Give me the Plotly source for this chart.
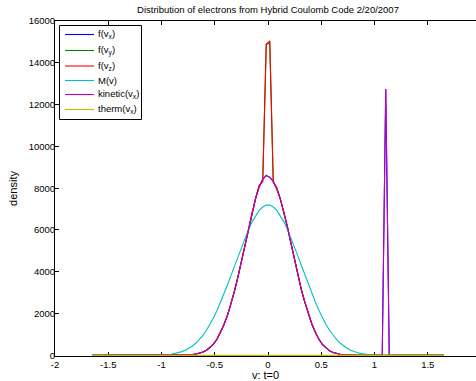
import plotly.graph_objects as go

# velocity grid (bin centres), with the ends of the sampled range
v = [-1.65,
     -1.0395, -1.0065, -0.9735, -0.9405, -0.9075, -0.8745, -0.8415, -0.8085, -0.7755, -0.7425,
     -0.7095, -0.6765, -0.6435, -0.6105, -0.5775, -0.5445, -0.5115, -0.4785, -0.4455, -0.4125,
     -0.3795, -0.3465, -0.3135, -0.2805, -0.2475, -0.2145, -0.1815, -0.1485, -0.1155, -0.0825,
     -0.0495, -0.0165, 0.0165, 0.0495, 0.0825, 0.1155, 0.1485, 0.1815, 0.2145, 0.2475,
     0.2805, 0.3135, 0.3465, 0.3795, 0.4125, 0.4455, 0.4785, 0.5115, 0.5445, 0.5775,
     0.6105, 0.6435, 0.6765, 0.7095, 0.7425, 0.7755, 0.8085, 0.8415, 0.8745, 0.9075,
     0.9405, 0.9735, 1.0065, 1.0395, 1.0725, 1.1055, 1.1385,
     1.65]

f_vx = [0,
        0, 0, 0, 0, 0, 0, 0, 0, 7, 18,
        35, 60, 100, 160, 245, 370, 540, 780, 1090, 1470,
        1930, 2470, 3090, 3790, 4540, 5330, 6120, 6860, 7520, 8060,
        8420, 8610, 8520, 8330, 7980, 7500, 6850, 6150, 5380, 4580,
        3820, 3120, 2520, 1960, 1480, 1090, 760, 510, 340, 215,
        140, 90, 55, 30, 15, 5, 0, 0, 0, 0,
        0, 0, 0, 0, 0, 12750, 0,
        0]

f_vy = [0,
        0, 0, 0, 0, 0, 0, 0, 0, 8, 20,
        38, 62, 105, 165, 250, 375, 550, 790, 1100, 1480,
        1950, 2480, 3100, 3800, 4550, 5350, 6130, 6880, 7540, 8100,
        8350, 14870, 14950, 8300, 7950, 7480, 6870, 6170, 5400, 4600,
        3840, 3140, 2540, 1970, 1490, 1100, 770, 520, 345, 220,
        145, 92, 56, 31, 16, 6, 0, 0, 0, 0,
        0, 0, 0, 0, 0, 0, 0,
        0]

f_vz = [0,
        0, 0, 0, 0, 0, 0, 0, 0, 8, 19,
        36, 62, 102, 162, 248, 372, 545, 785, 1095, 1475,
        1940, 2475, 3095, 3795, 4545, 5340, 6125, 6870, 7530, 8150,
        8300, 14900, 15050, 8280, 8050, 7520, 6880, 6180, 5410, 4610,
        3850, 3150, 2550, 1980, 1500, 1110, 775, 520, 345, 218,
        142, 91, 56, 31, 16, 6, 0, 0, 0, 0,
        0, 0, 0, 0, 0, 0, 0,
        0]

M_v = [0,
       0, 10, 20, 35, 55, 85, 125, 180, 250, 340,
       450, 590, 760, 960, 1200, 1480, 1800, 2150, 2540, 2950,
       3390, 3840, 4300, 4760, 5210, 5640, 6040, 6400, 6700, 6940,
       7100, 7190, 7190, 7100, 6940, 6700, 6400, 6040, 5640, 5210,
       4760, 4300, 3840, 3390, 2950, 2540, 2150, 1800, 1480, 1200,
       960, 760, 590, 450, 340, 250, 180, 125, 85, 55,
       35, 20, 10, 0, 0, 0, 0,
       0]

kinetic_vx = [0,
              0, 0, 0, 0, 0, 0, 0, 0, 7, 18,
              35, 60, 100, 160, 245, 370, 540, 780, 1090, 1470,
              1930, 2470, 3090, 3790, 4540, 5330, 6120, 6860, 7520, 8060,
              8420, 8610, 8520, 8330, 7980, 7500, 6850, 6150, 5380, 4580,
              3820, 3120, 2520, 1960, 1480, 1090, 760, 510, 340, 215,
              140, 90, 55, 30, 15, 5, 0, 0, 0, 0,
              0, 0, 0, 0, 0, 12750, 0,
              0]

therm_v = [-1.65, 1.65]
therm_vx = [0, 0]

x_ticks = [-2, -1.5, -1, -0.5, 0, 0.5, 1, 1.5, 2]
y_ticks = [0, 2000, 4000, 6000, 8000, 10000, 12000, 14000, 16000]

FONT = "Liberation Sans, Arial, Helvetica, sans-serif"
LW = 1.1
W, H = 476, 381
ML, MR, MT, MB = 55, 0, 21, 25
PW, PH = W - ML - MR, H - MT - MB

series = [
    ("f(v<sub>x</sub>)", v, f_vx, "#0000FF"),
    ("f(v<sub>y</sub>)", v, f_vy, "#008000"),
    ("f(v<sub>z</sub>)", v, f_vz, "#FF0000"),
    ("M(v)", v, M_v, "#00BFBF"),
    ("kinetic(v<sub>x</sub>)", v, kinetic_vx, "#BF00BF"),
    ("therm(v<sub>x</sub>)", therm_v, therm_vx, "#BFBF00"),
]


def px(xp):
    return (xp - ML) / PW


def py(yp):
    return (H - MB - yp) / PH


fig = go.Figure()
for name, xs, ys, col in series:
    fig.add_trace(go.Scatter(x=xs, y=ys, mode="lines", name=name,
                             line=dict(color=col, width=LW), showlegend=False))

# legend box drawn as shapes + text, MATLAB style
shapes = [dict(type="rect", xref="paper", yref="paper", layer="above",
               x0=px(59.5), x1=px(141.5), y0=py(119.5), y1=py(25.5),
               fillcolor="white", line=dict(color="black", width=1))]
annotations = []
leg_y = [34.5, 50.5, 66, 80.5, 94.5, 109.5]
for (name, _, _, col), yy in zip(series, leg_y):
    shapes.append(dict(type="line", xref="paper", yref="paper", layer="above",
                       x0=px(65), x1=px(94), y0=py(yy), y1=py(yy),
                       line=dict(color=col, width=LW)))
    annotations.append(dict(text=name, xref="paper", yref="paper", x=px(95.5), y=py(yy - 0.5),
                            xanchor="left", yanchor="middle", showarrow=False,
                            font=dict(size=9.5, color="black")))

fig.update_layout(
    width=W, height=H,
    margin=dict(l=ML, r=MR, t=MT, b=MB, autoexpand=False),
    paper_bgcolor="white", plot_bgcolor="white",
    font=dict(family=FONT, size=9.5, color="black"),
    title=dict(text="Distribution of electrons from Hybrid Coulomb Code 2/20/2007",
               x=(268 / W), xanchor="center", y=1 - 10 / H, yanchor="middle",
               font=dict(size=9.5)),
    showlegend=False,
    shapes=shapes,
    annotations=annotations,
)
fig.update_xaxes(range=[-2, 1.953], tickvals=x_ticks, ticktext=[str(t) for t in x_ticks],
                 ticks="inside", ticklen=4, tickcolor="black", showline=True,
                 linecolor="black", linewidth=1, mirror="ticks", showgrid=False,
                 zeroline=False, layer="below traces", automargin=False,
                 title=dict(text="v: t=0", standoff=6))
fig.update_yaxes(range=[-30, 16000], tickvals=y_ticks, tickformat="d",
                 ticks="inside", ticklen=4, tickcolor="black", showline=True,
                 linecolor="black", linewidth=1, showgrid=False, zeroline=False,
                 layer="below traces", ticklabelstandoff=-3, automargin=False,
                 title=dict(text="density", standoff=8))

fig.write_html("out.html", config={"displayModeBar": False},
               post_script="document.body.style.margin='0';")
